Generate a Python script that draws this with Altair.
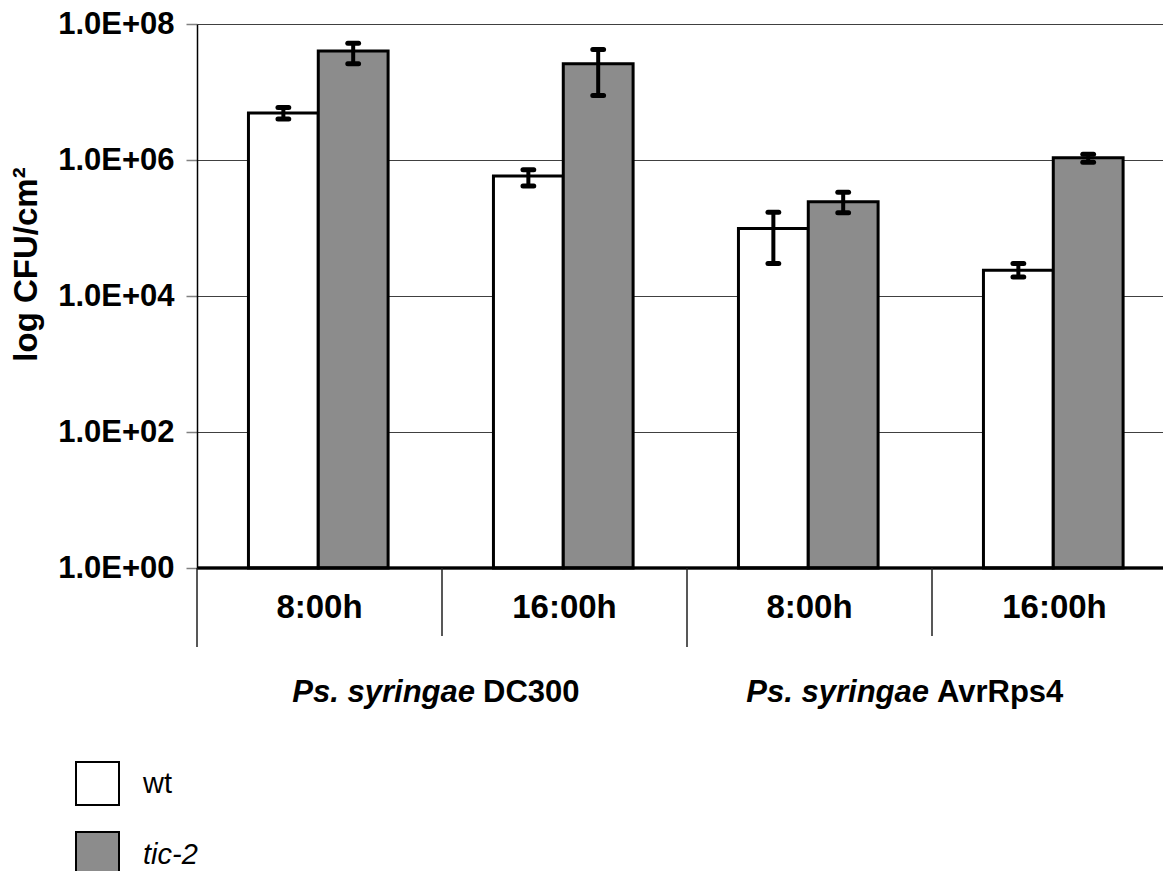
import altair as alt
import pandas as pd

# ---- data ----
times = ["8:00h", "16:00h", "8:00h", "16:00h"]
strains = ["DC300", "DC300", "AvrRps4", "AvrRps4"]
series = ["wt", "tic-2"]

wt_mean = [4.9e6, 5.8e5, 9.8e4, 2.4e4]
wt_lo = [4.0e6, 4.15e5, 3.0e4, 1.9e4]
wt_hi = [5.9e6, 7.2e5, 1.7e5, 3.0e4]

tic_mean = [4.0e7, 2.6e7, 2.44e5, 1.08e6]
tic_lo = [2.6e7, 8.9e6, 1.68e5, 9.25e5]
tic_hi = [5.2e7, 4.2e7, 3.35e5, 1.22e6]

tick_values = [1, 1e2, 1e4, 1e6, 1e8]
tick_labels = ["1.0E+00", "1.0E+02", "1.0E+04", "1.0E+06", "1.0E+08"]

group_names = ["DC300", "AvrRps4"]
legend_labels = ["wt", "tic-2"]

# ---- layout constants (style) ----
W, H = 966, 544
CAT_W = 245.0
GAP = 0.21
BW = 0.285
CAP = 0.022
FONT = "Liberation Sans"

rows = []
for i in range(len(times)):
    for k, (m, lo, hi) in enumerate([(wt_mean[i], wt_lo[i], wt_hi[i]),
                                     (tic_mean[i], tic_lo[i], tic_hi[i])]):
        x0 = i + GAP + k * BW
        rows.append(dict(idx=i, time=times[i], strain=strains[i], series=series[k],
                         mean=m, lo=lo, hi=hi, base=1.0,
                         x0=x0, x1=x0 + BW, xc=x0 + BW / 2,
                         c0=x0 + BW / 2 - CAP, c1=x0 + BW / 2 + CAP))
df = pd.DataFrame(rows)

cat_df = pd.DataFrame({"time": times, "xc": [i + 0.5 for i in range(len(times))]})
outer_df = pd.DataFrame({"x": [0.0, 2.0]})
inner_df = pd.DataFrame({"x": [1.0, 3.0]})

xscale = alt.Scale(domain=[0, W / CAT_W], nice=False, zero=False)
yscale = alt.Scale(type="log", domain=[1, 1e8], nice=False)

label_arr = "[" + ",".join("'%s'" % t for t in tick_labels) + "]"

base = alt.Chart(df)

bars = base.mark_rect(stroke="black", strokeWidth=3).encode(
    x=alt.X("x0:Q", scale=xscale, axis=None),
    x2="x1:Q",
    y=alt.Y("mean:Q", scale=yscale,
            axis=alt.Axis(values=tick_values, labelExpr=label_arr + "[round(log(datum.value)/LN10/2)]",
                          title="log CFU/cm²", titleFontSize=33, titleFontWeight="bold",
                          titleFont=FONT, titleColor="black",
                          titleX=-171, titleY=240, titleAngle=270,
                          titleAlign="center", titleBaseline="middle",
                          labelFont=FONT, labelFontSize=31, labelFontWeight="bold",
                          labelColor="black", labelPadding=12,
                          tickSize=11, tickColor="#808080", tickWidth=1.5,
                          domainColor="black", domainWidth=1.5,
                          grid=True, gridColor="#404040", gridWidth=1)),
    y2="base:Q",
    fill=alt.Fill("series:N", scale=alt.Scale(domain=series, range=["#ffffff", "#8c8c8c"]),
                  legend=None),
)

err = base.mark_rule(color="black", strokeWidth=4).encode(
    x="xc:Q", y="lo:Q", y2="hi:Q")
cap_lo = base.mark_rule(color="black", strokeWidth=5, strokeCap="round").encode(
    x="c0:Q", x2="c1:Q", y="lo:Q")
cap_hi = base.mark_rule(color="black", strokeWidth=5, strokeCap="round").encode(
    x="c0:Q", x2="c1:Q", y="hi:Q")

baseline = alt.Chart(cat_df).mark_rule(color="black", strokeWidth=2.5).encode(
    x=alt.value(0), x2=alt.value(W), y=alt.value(H))

outer = alt.Chart(outer_df).mark_rule(color="#202020", strokeWidth=1.5).encode(
    x="x:Q", y=alt.value(H), y2=alt.value(H + 79))
inner = alt.Chart(inner_df).mark_rule(color="#202020", strokeWidth=1.5).encode(
    x="x:Q", y=alt.value(H), y2=alt.value(H + 68))

cat_text = alt.Chart(cat_df).mark_text(font=FONT, fontSize=33, fontWeight="bold",
                                       baseline="middle", align="center", color="black").encode(
    x="xc:Q", y=alt.value(584), text="time:N")

g1 = pd.DataFrame({"x": [1.0], "name": [group_names[0]], "it": ["Ps. syringae"]})
g2 = pd.DataFrame({"x": [3.0], "name": [group_names[1]], "it": ["Ps. syringae"]})

def group_label(gdf, dx):
    it = alt.Chart(gdf).mark_text(font=FONT, fontSize=31, fontWeight="bold", fontStyle="italic",
                                  align="right", baseline="middle", dx=dx - 4, color="black").encode(
        x="x:Q", y=alt.value(669), text="it:N")
    nm = alt.Chart(gdf).mark_text(font=FONT, fontSize=31, fontWeight="bold",
                                  align="left", baseline="middle", dx=dx + 4, color="black").encode(
        x="x:Q", y=alt.value(669), text="name:N")
    return it + nm

grp = group_label(g1, 37) + group_label(g2, 1)

leg1 = pd.DataFrame({"label": [legend_labels[0]]})
leg2 = pd.DataFrame({"label": [legend_labels[1]]})
lbox1 = alt.Chart(leg1).mark_rect(fill="white", stroke="black", strokeWidth=2).encode(
    x=alt.value(-121), x2=alt.value(-78), y=alt.value(738), y2=alt.value(781))
lbox2 = alt.Chart(leg2).mark_rect(fill="#8c8c8c", stroke="black", strokeWidth=2).encode(
    x=alt.value(-121), x2=alt.value(-78), y=alt.value(808), y2=alt.value(851))
ltxt1 = alt.Chart(leg1).mark_text(font=FONT, fontSize=29, align="left", baseline="middle",
                                  color="black").encode(
    x=alt.value(-54), y=alt.value(760), text="label:N")
ltxt2 = alt.Chart(leg2).mark_text(font=FONT, fontSize=29, fontStyle="italic", align="left",
                                  baseline="middle", color="black").encode(
    x=alt.value(-54), y=alt.value(831), text="label:N")

chart = alt.layer(bars, err, cap_lo, cap_hi, baseline, outer, inner, cat_text, grp,
                  lbox1, lbox2, ltxt1, ltxt2).properties(
    width=W, height=H,
    padding={"left": 197, "top": 24, "right": 0, "bottom": 303},
    autosize=alt.AutoSizeParams(type="none"),
).configure_view(stroke=None).configure(background="white")

chart.save("out.html", embed_options={"renderer": "svg", "actions": False})
